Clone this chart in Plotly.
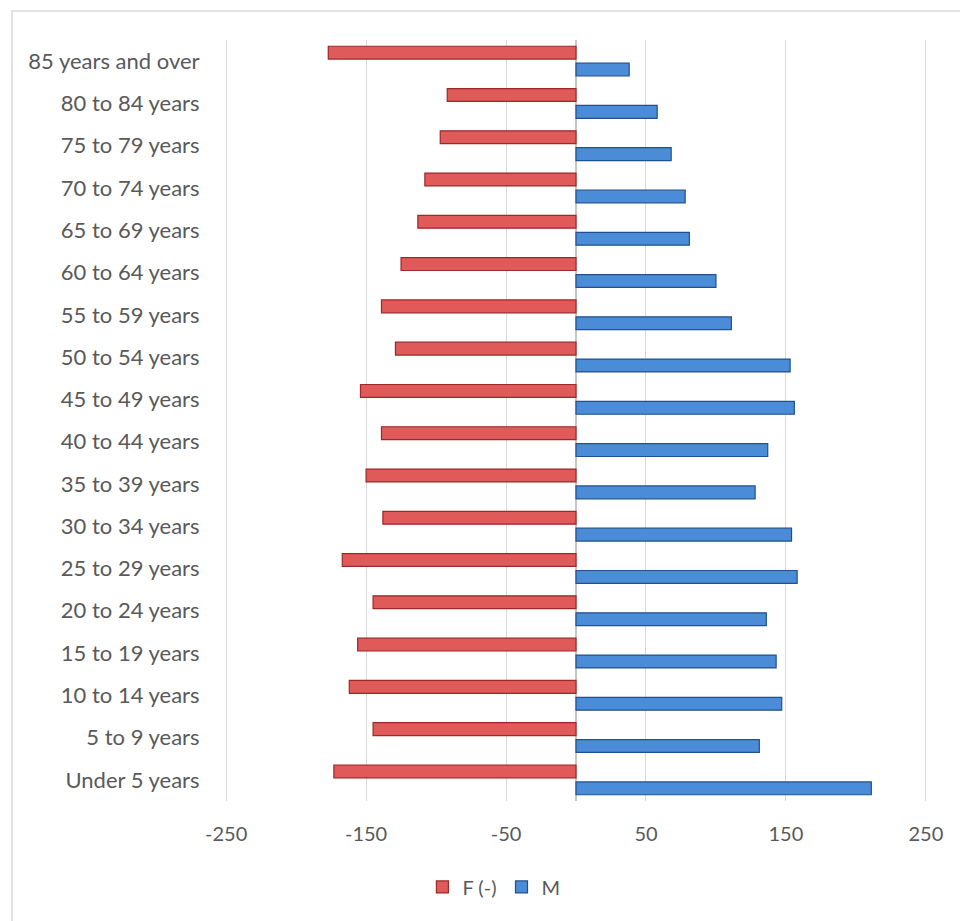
import plotly.graph_objects as go

categories = ["Under 5 years", "5 to 9 years", "10 to 14 years", "15 to 19 years",
              "20 to 24 years", "25 to 29 years", "30 to 34 years", "35 to 39 years",
              "40 to 44 years", "45 to 49 years", "50 to 54 years", "55 to 59 years",
              "60 to 64 years", "65 to 69 years", "70 to 74 years", "75 to 79 years",
              "80 to 84 years", "85 years and over"]
female = [-173, -145, -162, -156, -145, -167, -138, -150, -139, -154, -129, -139,
          -125, -113, -108, -97, -92, -177]
male = [211, 131, 147, 143, 136, 158, 154, 128, 137, 156, 153, 111,
        100, 81, 78, 68, 58, 38]
x_ticks = [-250, -150, -50, 50, 150, 250]

FONT = "Lato"
GREY = "#595959"

fig = go.Figure()
fig.add_trace(go.Bar(
    y=categories, x=male, orientation="h", name="M",
    marker=dict(color="#4B8CD8", line=dict(color="#22508C", width=1.2)),
    legendrank=2,
))
fig.add_trace(go.Bar(
    y=categories, x=female, orientation="h", name="F (-)",
    marker=dict(color="#E05A5A", line=dict(color="#9C2828", width=1.2)),
    legendrank=1,
))

fig.update_layout(
    width=960, height=921,
    margin=dict(l=225, r=33, t=40, b=120),
    paper_bgcolor="white", plot_bgcolor="white",
    barmode="group", bargap=0.2, bargroupgap=0.24,
    font=dict(family=FONT, size=20, color=GREY),
    showlegend=True,
    legend=dict(orientation="h", xref="container", yref="container",
                x=0.44, xanchor="left", y=0.037, yanchor="middle",
                font=dict(family=FONT, size=20, color=GREY),
                itemwidth=30, tracegroupgap=0, bgcolor="rgba(0,0,0,0)"),
    xaxis=dict(range=[-250.8, 250.8], tickvals=x_ticks, ticktext=[str(v) for v in x_ticks],
               showgrid=True, gridcolor="#D9D9D9", gridwidth=1.2,
               zeroline=True, zerolinecolor="#C6C6C6", zerolinewidth=2,
               showline=False, ticks="outside", ticklen=15, tickcolor="rgba(0,0,0,0)",
               tickfont=dict(family=FONT, size=20, color=GREY)),
    yaxis=dict(type="category", categoryorder="array", categoryarray=categories,
               showgrid=False, zeroline=False, showline=False,
               ticks="outside", ticklen=20, tickcolor="rgba(0,0,0,0)",
               tickfont=dict(family=FONT, size=22, color=GREY)),
    shapes=[dict(type="rect", xref="paper", yref="paper",
                 x0=-0.3034, x1=1.05, y0=-0.17, y1=1.0382,
                 line=dict(color="#D9D9D9", width=1.5), fillcolor="rgba(0,0,0,0)",
                 layer="below")],
)

fig.write_html("out.html")
